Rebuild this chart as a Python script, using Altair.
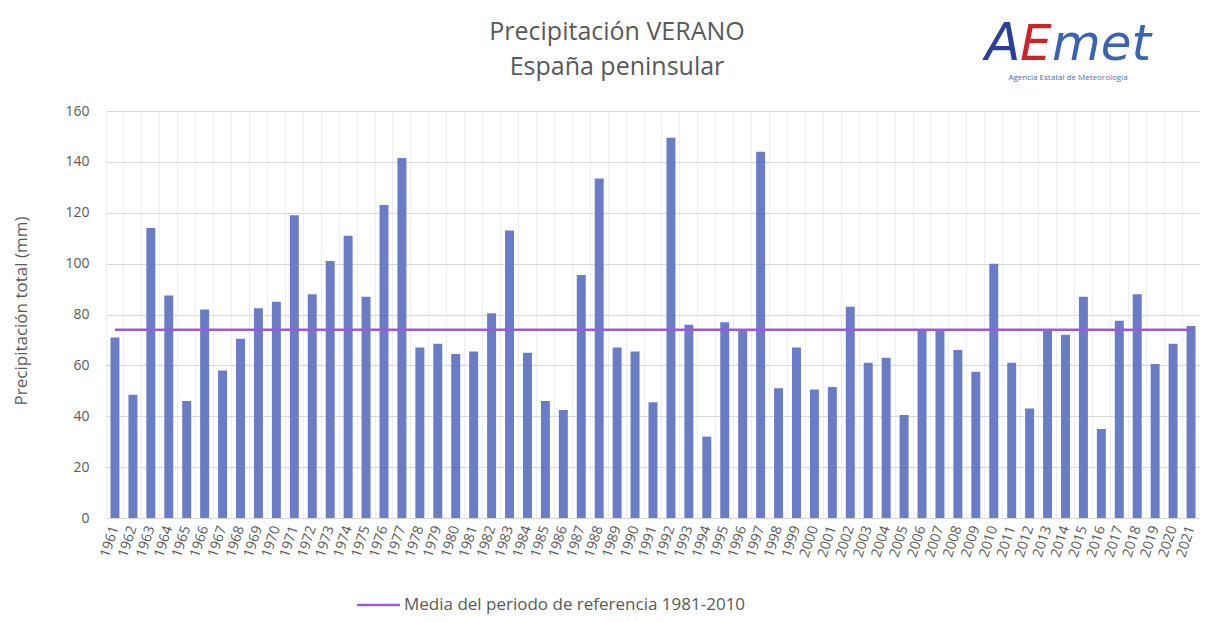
import altair as alt
import pandas as pd

years = [str(y) for y in range(1961, 2022)]
precip = [71, 48.5, 114, 87.5, 46, 82, 58, 70.5, 82.5, 85,
          119, 88, 101, 111, 87, 123, 141.5, 67, 68.5, 64.5,
          65.5, 80.5, 113, 65, 46, 42.5, 95.5, 133.5, 67, 65.5,
          45.5, 149.5, 76, 32, 77, 74, 144, 51, 67, 50.5,
          51.5, 83, 61, 63, 40.5, 74, 74, 66, 57.5, 100,
          61, 43, 74, 72, 87, 35, 77.5, 88, 60.5, 68.5,
          75.5]
mean_ref = 74
y_ticks = [0, 20, 40, 60, 80, 100, 120, 140, 160]
title_lines = ["Precipitación VERANO", "España peninsular"]
legend_label = "Media del periodo de referencia 1981-2010"
y_title = "Precipitación total (mm)"

df = pd.DataFrame({"year": years, "precip": precip, "mean": [mean_ref] * len(years)})

GRAY = "#595959"
BAR = "#6a7cc6"
PURPLE = "#9a5cd6"
FONT = "Open Sans"

x_enc = alt.X("year:N", sort=None,
              scale=alt.Scale(paddingInner=0, paddingOuter=0),
              axis=alt.Axis(title=None, labelAngle=288, labelColor=GRAY, labelFontSize=14,
                            labelFont=FONT, ticks=False, domainColor="#d9d9d9",
                            grid=True, gridColor="#eeeeee", bandPosition=0, labelPadding=8))
y_scale = alt.Scale(domain=[0, 160], nice=False)

bars = alt.Chart(df).mark_bar(color=BAR, width=alt.RelativeBandSize(0.5)).encode(
    x=x_enc,
    y=alt.Y("precip:Q", scale=y_scale,
            axis=alt.Axis(title=None, values=y_ticks, domain=False, ticks=False,
                          gridColor="#d9d9d9", labelColor=GRAY, labelFontSize=14,
                          labelFont=FONT, labelPadding=17))
)

line = alt.Chart(df).mark_line(color=PURPLE, strokeWidth=2.5).encode(
    x=alt.X("year:N", sort=None),
    y=alt.Y("mean:Q", scale=y_scale)
)

one = alt.Data(values=[{}])

t1 = alt.Chart(one).mark_text(text=title_lines[0], font=FONT, fontSize=25, color=GRAY,
                              align="center", baseline="middle").encode(
    x=alt.value(511), y=alt.value(-79))
t2 = alt.Chart(one).mark_text(text=title_lines[1], font=FONT, fontSize=25, color=GRAY,
                              align="center", baseline="middle").encode(
    x=alt.value(511), y=alt.value(-44))

ytitle = alt.Chart(one).mark_text(text=y_title, font=FONT, fontSize=17, color=GRAY,
                                  angle=270, align="center", baseline="middle").encode(
    x=alt.value(-84), y=alt.value(200))

logo_A = alt.Chart(one).mark_text(text="A", font="DejaVu Sans", fontSize=52, fontStyle="italic",
                                  color="#2a3f9a", align="left", baseline="alphabetic").encode(
    x=alt.value(879), y=alt.value(-51))
logo_E = alt.Chart(one).mark_text(text="E", font="DejaVu Sans", fontSize=50, fontStyle="italic",
                                  color="#c8262b", align="left", baseline="alphabetic").encode(
    x=alt.value(914), y=alt.value(-51))
logo_met = alt.Chart(one).mark_text(text="met", font="DejaVu Sans", fontSize=50, fontStyle="italic",
                                    color="#3a63b0", align="left", baseline="alphabetic").encode(
    x=alt.value(946), y=alt.value(-51))
logo_sub = alt.Chart(one).mark_text(text="Agencia Estatal de Meteorología", font=FONT, fontSize=8,
                                    color="#4a6fb8", align="center", baseline="middle").encode(
    x=alt.value(962), y=alt.value(-33))

leg_line = alt.Chart(one).mark_rule(color=PURPLE, strokeWidth=2.5).encode(
    x=alt.value(251), x2=alt.value(294), y=alt.value(494))
leg_text = alt.Chart(one).mark_text(text=legend_label, font=FONT, fontSize=17, color=GRAY,
                                    align="left", baseline="middle").encode(
    x=alt.value(298), y=alt.value(494))

chart = alt.layer(bars, line, t1, t2, ytitle, logo_A, logo_E, logo_met, logo_sub,
                  leg_line, leg_text).properties(
    width=1094, height=407,
    autosize=alt.AutoSizeParams(type="none"),
    padding={"left": 98, "top": 103, "right": 0, "bottom": 100},
    background="white"
).configure_view(stroke=None)

chart.save("out.html", embed_options={"renderer": "svg", "actions": False})
